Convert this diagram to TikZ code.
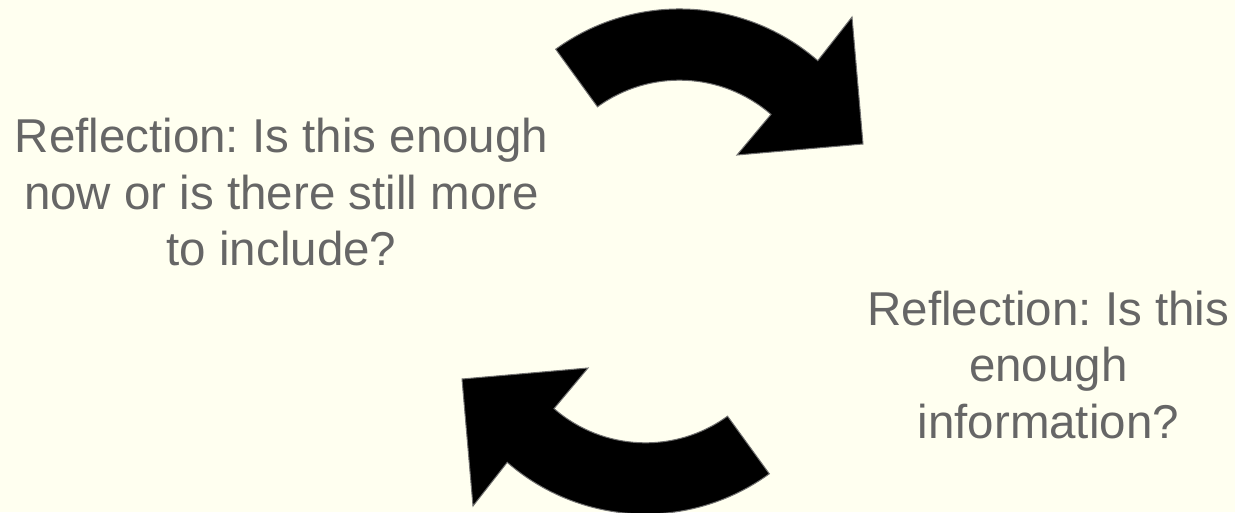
\documentclass[tikz,border=0pt]{standalone}
\usepackage{fontspec}
\setmainfont{Liberation Sans}
\frenchspacing
\definecolor{bg}{HTML}{FFFFF0}
\definecolor{txt}{HTML}{666666}
\definecolor{edge}{HTML}{707070}
\newcommand{\curvedarrowpath}{%
  (555.7,49.2) arc[start angle=126, end angle=49, radius=210.7pt]
  -- (852,17) -- (863,144) -- (737,155) -- (771.0,114.4)
  arc[start angle=49, end angle=126, radius=139.5pt] -- cycle}
\tikzset{
  bigarrow/.style={fill=black, draw=edge, line width=1pt, line join=miter},
  label/.style={inner sep=0pt, anchor=base, text=txt}
}
\begin{document}
\begin{tikzpicture}[x=1pt,y=-1pt]
  \fill[bg] (0,0) rectangle (1235,512);
  \useasboundingbox (0,0) rectangle (1235,512);
  \begin{scope}
    \clip (0,0) rectangle (1235,512);
    \path[bigarrow] \curvedarrowpath;
    \begin{scope}[rotate around={180:(662.5,261.5)}]
      \path[bigarrow] \curvedarrowpath;
    \end{scope}
  \end{scope}
  \node[label] (left) at (281.5,152.3) {\fontsize{47.5}{56.7}\selectfont\frenchspacing\begin{tabular}[t]{@{}c@{}}Reflection: Is this enough\\ now or is there still more\\ to include?\end{tabular}};
  \node[label] (right) at (1048.3,325) {\fontsize{47.5}{56.5}\selectfont\frenchspacing\begin{tabular}[t]{@{}c@{}}Reflection: Is this\\ enough\\ information?\end{tabular}};
\end{tikzpicture}
\end{document}
